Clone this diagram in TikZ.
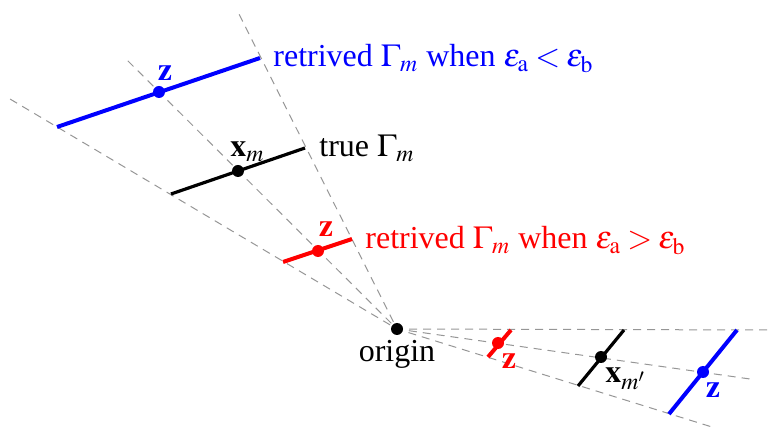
\documentclass[tikz,border=0pt]{standalone}
\usepackage{mathptmx}
\usepackage[no-math]{fontspec}
\setmainfont{Liberation Serif}
\usepackage{tikz}
\usetikzlibrary{positioning,calc}
\definecolor{raygray}{RGB}{150,150,150}
\definecolor{retblue}{RGB}{0,0,255}
\definecolor{retred}{RGB}{255,0,0}
\tikzset{
  ray/.style={draw=raygray,line width=0.5pt,dash pattern=on 4pt off 3pt,shorten <=4pt},
  seg/.style={line width=2pt},
  trueseg/.style={line width=1.6pt},
  dotmark/.style={circle,fill,inner sep=0pt,minimum size=6pt},
  lbl/.style={font=\fontsize{16}{19}\selectfont,inner sep=0pt},
}
\newcommand{\epsrel}[1]{$\thickmuskip=3.5mu\varepsilon_{\mathrm{a}}#1\varepsilon_{\mathrm{b}}$}

\begin{document}
\begin{tikzpicture}[x=0.5pt,y=-0.5pt]
  \useasboundingbox (0,0) rectangle (772,427);
  % origin and the dashed rays
  \coordinate (O) at (397,329);
  \coordinate (up1) at (10,99);
  \coordinate (up2) at (124,57);
  \coordinate (up3) at (238,12);
  \coordinate (lo1) at (772,330);
  \coordinate (lo2) at (750,379);
  \coordinate (lo3) at (712,427);
  \draw[ray] (O) -- (up1);
  \draw[ray] (O) -- (up2);
  \draw[ray] (O) -- (up3);
  \draw[ray,shorten <=6pt] (O) -- (lo1);
  \draw[ray,shorten <=6pt] (O) -- (lo2);
  \draw[ray,shorten <=6pt] (O) -- (lo3);
  % upper segments
  \coordinate (bl) at (57,127);   \coordinate (br) at (260,58);
  \coordinate (kl) at (171,194);  \coordinate (kr) at (305,148);
  \coordinate (rl) at (283,262);  \coordinate (rr) at (352,239);
  \draw[seg,retblue] (bl) -- (br);
  \draw[trueseg,black] (kl) -- (kr);
  \draw[seg,retred] (rl) -- (rr);
  \node[dotmark,retblue] (bz) at (159,92) {};
  \node[dotmark,black] (xm) at (238,171) {};
  \node[dotmark,retred] (rz) at (318,251) {};
  % lower segments
  \coordinate (rl2) at (488,357); \coordinate (rr2) at (511,330);
  \coordinate (kl2) at (578,386); \coordinate (kr2) at (624,330);
  \coordinate (bl2) at (669,414); \coordinate (br2) at (737,330);
  \draw[seg,retred] (rl2) -- (rr2);
  \draw[trueseg,black] (kl2) -- (kr2);
  \draw[seg,retblue] (bl2) -- (br2);
  \node[dotmark,retred] (rz2) at (498,343) {};
  \node[dotmark,black] (xm2) at (601,357) {};
  \node[dotmark,retblue] (bz2) at (703,372) {};
  \node[dotmark,black] (orig) at (O) {};
  % labels
  \node[lbl,text=retblue,anchor=base west] (bluetxt) at (273,67)
    {retrived $\Gamma_m$ when \epsrel{<}};
  \node[lbl,anchor=base west] (truetxt) at (319,157) {true $\Gamma_m$};
  \node[lbl,text=retred,anchor=base west] (redtxt) at (365,249)
    {retrived $\Gamma_m$ when \epsrel{>}};
  \node[lbl,anchor=base] (origtxt) at (397,362) {origin};
  \node[lbl,text=retblue,anchor=base] at (165,81) {$\mathbf{z}$};
  \node[lbl,anchor=base west] at (230,157) {$\mathbf{x}_m$};
  \node[lbl,text=retred,anchor=base] at (326,237) {$\mathbf{z}$};
  \node[lbl,text=retred,anchor=base] at (509,369) {$\mathbf{z}$};
  \node[lbl,anchor=base west] at (605,383) {$\mathbf{x}_{m'}$};
  \node[lbl,text=retblue,anchor=base] at (713,398) {$\mathbf{z}$};
\end{tikzpicture}
\end{document}
